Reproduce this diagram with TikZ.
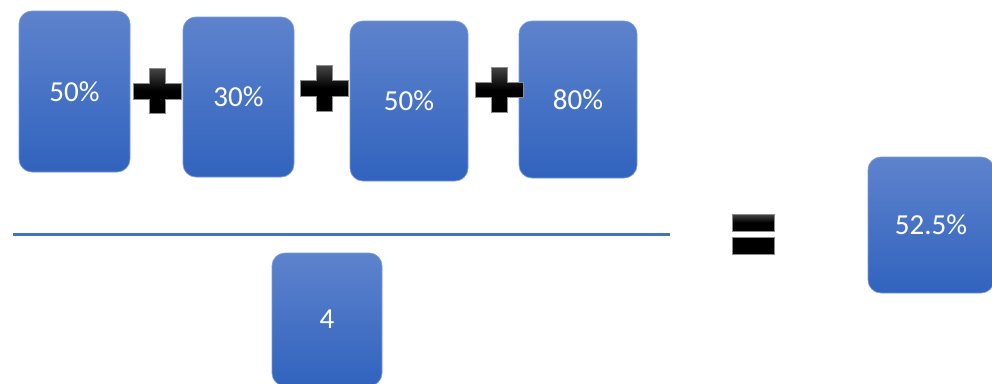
\documentclass[tikz,border=0pt]{standalone}
\usepackage{fontspec}
\setmainfont{Carlito}
\definecolor{cardtop}{RGB}{94,131,205}
\definecolor{cardbot}{RGB}{49,99,190}
\definecolor{cardedge}{RGB}{120,152,214}
\definecolor{barline}{RGB}{68,114,196}
\definecolor{signtop}{RGB}{70,70,70}
\tikzset{
  card/.style={rounded corners=13pt, draw=cardedge, line width=0.7pt,
    top color=cardtop, bottom color=cardbot, text=white,
    font=\fontsize{29}{34}\selectfont, inner sep=0pt},
  sign/.style={draw=black!45, line width=0.6pt, top color=signtop, bottom color=black, middle color=black},
  signflat/.style={draw=black!45, line width=0.6pt, fill=black},
  fracline/.style={draw=barline, line width=3pt}
}
\begin{document}
\begin{tikzpicture}[x=1pt,y=-1pt]
\useasboundingbox (0,0) rectangle (992,383);
\clip (0,0) rectangle (992,383);
% cards
\node[card, minimum width=111pt, minimum height=161pt] (a) at (74.5,91.5) {50\%};
\node[card, minimum width=111pt, minimum height=160pt] (b) at (238.5,97) {30\%};
\node[card, minimum width=118pt, minimum height=160pt] (c) at (409,101) {50\%};
\node[card, minimum width=118pt, minimum height=157pt] (d) at (578,99.5) {80\%};
\node[card, minimum width=126pt, minimum height=136pt] (e) at (931,225) {52.5\%};
\node[card, minimum width=110pt, minimum height=133pt] (f) at (327,319.5) {4};
% plus signs
\shade[sign] (149,68) -- (165,68) -- (165,83) -- (181,83) -- (181,99) -- (165,99) -- (165,113) -- (149,113) -- (149,99) -- (133,99) -- (133,83) -- (149,83) -- cycle;
\shade[sign] (316,65) -- (332,65) -- (332,80) -- (348,80) -- (348,96) -- (332,96) -- (332,111) -- (316,111) -- (316,96) -- (300,96) -- (300,80) -- (316,80) -- cycle;
\shade[sign] (491,67) -- (507,67) -- (507,82) -- (523,82) -- (523,97) -- (507,97) -- (507,112) -- (491,112) -- (491,97) -- (475,97) -- (475,82) -- (491,82) -- cycle;
% fraction line
\coordinate (l1) at (13,234);
\coordinate (l2) at (670,234);
\draw[fracline] (l1) -- (l2);
% equals sign
\shade[sign] (732,214) rectangle (774,231);
\fill[signflat] (732,237) rectangle (774,254);
\end{tikzpicture}
\end{document}
